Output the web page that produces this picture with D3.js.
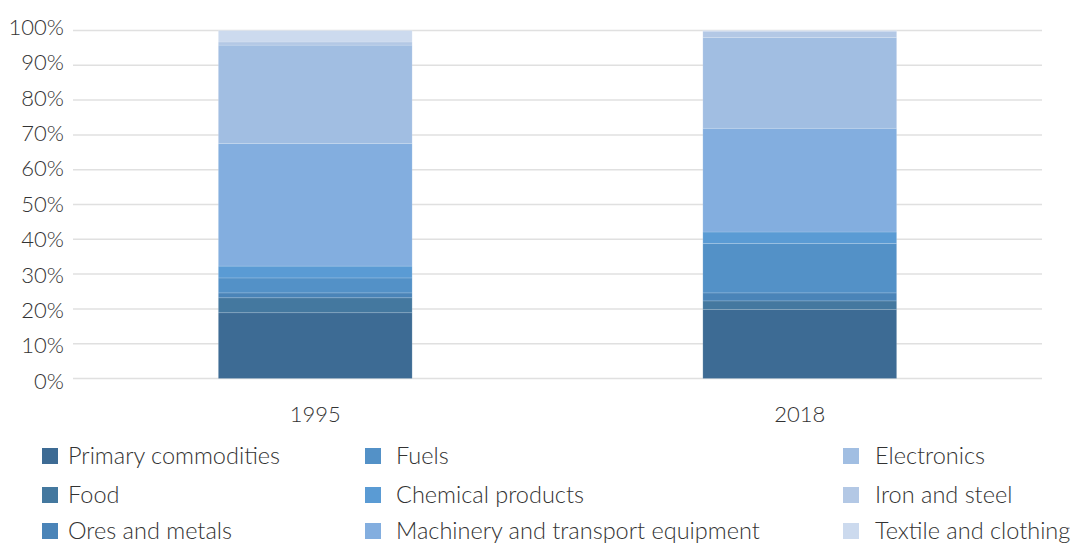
<!DOCTYPE html>
<html>
<head>
  <meta charset="utf-8" />
  <title>Export composition 1995 vs 2018</title>
  <script src="https://d3js.org/d3.v7.min.js"></script>
  <style>
    body { margin: 0; background: #fff; }
    text { font-family: "Lato", sans-serif; font-weight: 300; fill: #333; }
    .grid line { stroke: #e0e0e0; stroke-width: 1.5; }
  </style>
</head>
<body>
  <svg id="chart" width="1075" height="545"></svg>

  <script type="text/javascript">
    // - - - - - DATA - - - - - //
    var years = ["1995", "2018"];

    var categories = ["Primary commodities", "Food", "Ores and metals", "Fuels",
      "Chemical products", "Machinery and transport equipment", "Electronics",
      "Iron and steel", "Textile and clothing"];

    // shares in %, bottom to top, same order as categories
    var share1995 = [18.9, 4.3, 1.4, 4.3, 3.4, 35.2, 28.3, 0.9, 3.3];
    var share2018 = [19.8, 2.5, 2.3, 14.2, 3.3, 29.8, 26.1, 1.8, 0.2];

    var yTicks = [0, 10, 20, 30, 40, 50, 60, 70, 80, 90, 100];

    var colors = ["#3d6b94", "#44789f", "#4a84b8", "#5391c7", "#5a9bd4",
      "#83aedf", "#a1bee2", "#b3c8e5", "#ccdaee"];

    // - - - - - LAYOUT - - - - - //
    var svg = d3.select("#chart");

    var x = d3.scaleBand()
        .domain(years)
        .range([73, 1042])
        .paddingInner(0.6)
        .paddingOuter(0.3);

    var y = d3.scaleLinear()
        .domain([0, 100])
        .range([378.5, 30.5]);

    // tick labels sit on a slightly wider spread than the grid
    var yLab = d3.scaleLinear()
        .domain([0, 100])
        .range([381, 27]);

    var color = d3.scaleOrdinal().domain(categories).range(colors);

    // build table for stack
    var shares = [share1995, share2018];
    var table = years.map(function(yr, i) {
      var row = { year: yr };
      categories.forEach(function(c, k) { row[c] = shares[i][k]; });
      return row;
    });
    var series = d3.stack().keys(categories)(table);

    // gridlines
    svg.append("g")
        .attr("class", "grid")
      .selectAll("line")
      .data(yTicks)
      .enter().append("line")
        .attr("x1", 73)
        .attr("x2", 1042)
        .attr("y1", function(d) { return y(d); })
        .attr("y2", function(d) { return y(d); });

    // y labels
    svg.append("g").selectAll("text")
      .data(yTicks)
      .enter().append("text")
        .attr("x", 64)
        .attr("y", function(d) { return yLab(d); })
        .attr("dy", "0.35em")
        .attr("text-anchor", "end")
        .style("font-size", "22px")
        .text(function(d) { return d + "%"; });

    // bars
    svg.append("g").selectAll("g")
      .data(series)
      .enter().append("g")
        .attr("fill", function(d) { return color(d.key); })
      .selectAll("rect")
      .data(function(d) { return d; })
      .enter().append("rect")
        .attr("x", function(d) { return x(d.data.year); })
        .attr("width", x.bandwidth())
        .attr("y", function(d) { return y(d[1]); })
        .attr("height", function(d) { return y(d[0]) - y(d[1]); })
        .attr("stroke", "rgba(255,255,255,0.18)")
        .attr("stroke-width", 0.8);

    // x labels
    svg.append("g").selectAll("text")
      .data(years)
      .enter().append("text")
        .attr("x", function(d) { return x(d) + x.bandwidth() / 2; })
        .attr("y", 422)
        .attr("text-anchor", "middle")
        .style("font-size", "22px")
        .text(function(d) { return d; });

    // - - - - - LEGEND - - - - - //
    var legBox = [42, 365, 843],
        legText = [68, 396, 875],
        legRows = [456, 495, 531];

    var leg = svg.append("g").selectAll("g")
      .data(categories)
      .enter().append("g")
        .attr("transform", function(d, i) {
          return "translate(0," + legRows[i % 3] + ")";
        });

    leg.append("rect")
        .attr("x", function(d, i) { return legBox[Math.floor(i / 3)]; })
        .attr("y", -8)
        .attr("width", 16)
        .attr("height", 16)
        .attr("fill", function(d) { return color(d); });

    leg.append("text")
        .attr("x", function(d, i) { return legText[Math.floor(i / 3)]; })
        .attr("dy", "0.35em")
        .style("font-size", "23.5px")
        .text(function(d) { return d; });
  </script>
</body>
</html>
